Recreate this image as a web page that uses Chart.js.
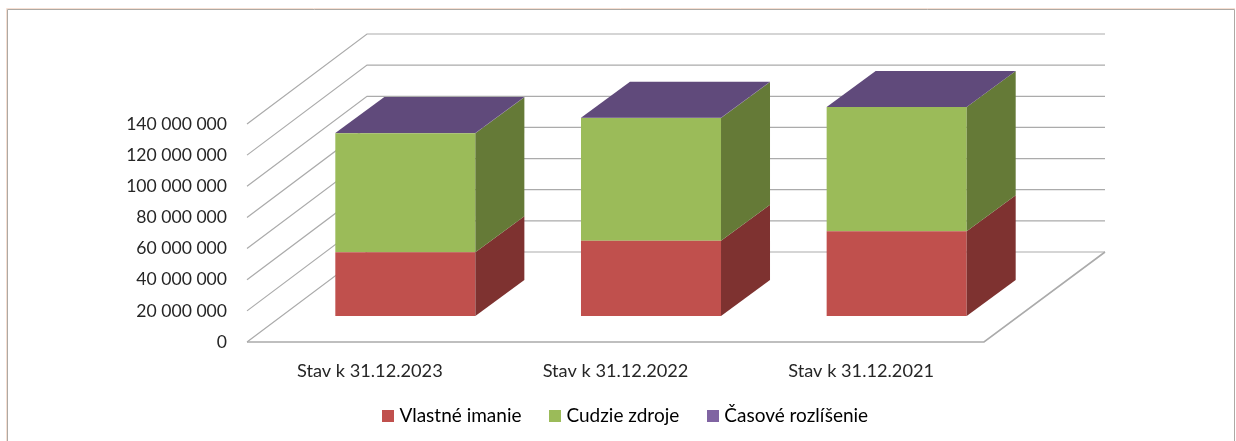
<!DOCTYPE html>
<html>
<head>
<meta charset="utf-8">
<style>html,body{margin:0;padding:0;background:#fff}#w{width:1236px;height:441px;position:relative}</style>
<script src="https://cdn.jsdelivr.net/npm/chart.js@4/dist/chart.umd.min.js"></script>
</head>
<body>
<div id="w"><canvas id="c"></canvas></div>
<script>
const categories = ['Stav k 31.12.2023', 'Stav k 31.12.2022', 'Stav k 31.12.2021'];
const vlastneImanie = [41000000, 48400000, 54400000];
const cudzieZdroje = [76400000, 78800000, 79800000];
const casoveRozlisenie = [100000, 100000, 100000];
const seriesColors = ['#C0504D', '#9BBB59', '#8064A2'];
const sideColors = ['#7E3230', '#657A37', '#604A7B'];
const topColor = '#604A7B';
const wallDepth = {x: 120, y: -90};
const barOffset = {x: 35.5, y: -26};
const barDepth = {x: 49, y: -36};
const gridColor = '#ABABAB';
const fontFamily = 'Lato, "Open Sans", sans-serif';

const fmt = v => String(v).replace(/\B(?=(\d{3})+(?!\d))/g, ' ');

function poly(ctx, pts, fill) {
  ctx.beginPath();
  pts.forEach((p, i) => i ? ctx.lineTo(p[0], p[1]) : ctx.moveTo(p[0], p[1]));
  ctx.closePath();
  ctx.fillStyle = fill;
  ctx.fill();
}

function swatch(color) {
  const s = document.createElement('canvas');
  s.width = 12; s.height = 12;
  const g = s.getContext('2d');
  g.fillStyle = color;
  g.fillRect(0, 0, 12, 12);
  return s;
}

const threeD = {
  id: 'threeD',
  afterLayout(chart) {
    chart.legend.left = 18;
    chart.legend.right = 1236;
    chart.legend.top = 374.5;
  },
  beforeDraw(chart) {
    const c = chart.ctx;
    c.save();
    c.strokeStyle = '#F6DFD2';
    c.lineWidth = 1;
    c.beginPath(); c.moveTo(6.5, 441); c.lineTo(6.5, 8.5); c.lineTo(1235, 8.5); c.stroke();
    c.strokeStyle = '#ADA9A4';
    c.beginPath(); c.moveTo(7.5, 441); c.lineTo(7.5, 9.5); c.lineTo(1234.5, 9.5); c.lineTo(1234.5, 441); c.stroke();
    c.restore();
  },
  beforeDatasetsDraw(chart) {
    const c = chart.ctx, y = chart.scales.y, a = chart.chartArea;
    c.save();
    c.strokeStyle = gridColor;
    c.lineWidth = 1.2;
    const backR = a.right + wallDepth.x + 1;
    y.ticks.forEach(t => {
      const py = y.getPixelForValue(t.value);
      c.beginPath();
      c.moveTo(a.left, py);
      c.lineTo(a.left + wallDepth.x, py + wallDepth.y);
      c.lineTo(backR, py + wallDepth.y);
      c.stroke();
    });
    const by = y.getPixelForValue(0);
    c.lineWidth = 1.6;
    c.beginPath();
    c.moveTo(a.left, by);
    c.lineTo(a.right, by);
    c.lineTo(backR, by + wallDepth.y);
    c.stroke();
    c.restore();
    c.save();
    c.translate(barOffset.x, barOffset.y);
  },
  afterDatasetsDraw(chart) {
    const c = chart.ctx;
    const dx = barDepth.x, dy = barDepth.y;
    chart.data.datasets.forEach((ds, di) => {
      chart.getDatasetMeta(di).data.forEach(el => {
        const r = el.x + el.width / 2, t = el.y, b = el.base;
        poly(c, [[r, t], [r + dx, t + dy], [r + dx, b + dy], [r, b]], sideColors[di]);
      });
    });
    const last = chart.data.datasets.length - 1;
    chart.getDatasetMeta(last).data.forEach(el => {
      const l = el.x - el.width / 2, r = el.x + el.width / 2, t = el.y;
      poly(c, [[l, t], [l + dx, t + dy], [r + dx, t + dy], [r, t]], topColor);
    });
    c.restore();
  }
};

new Chart(document.getElementById('c'), {
  type: 'bar',
  data: {
    labels: categories,
    datasets: [
      {label: 'Vlastné imanie', data: vlastneImanie, backgroundColor: seriesColors[0]},
      {label: 'Cudzie zdroje', data: cudzieZdroje, backgroundColor: seriesColors[1]},
      {label: 'Časové rozlíšenie', data: casoveRozlisenie, backgroundColor: seriesColors[2]}
    ]
  },
  plugins: [threeD],
  options: {
    responsive: true,
    maintainAspectRatio: false,
    animation: false,
    clip: false,
    barPercentage: 0.76,
    categoryPercentage: 0.75,
    layout: {padding: {top: 124, right: 252, left: 0, bottom: 0}},
    plugins: {
      tooltip: {enabled: false},
      legend: {
        position: 'bottom',
        align: 'center',
        labels: {
          usePointStyle: true,
          pointStyleWidth: 4,
          boxWidth: 12, boxHeight: 12, padding: 31.5,
          color: '#262626',
          font: {family: fontFamily, size: 19},
          generateLabels: chart => chart.data.datasets.map((d, i) => ({
            text: d.label,
            pointStyle: swatch(seriesColors[i]),
            datasetIndex: i
          }))
        }
      }
    },
    scales: {
      x: {
        stacked: true,
        grid: {display: false, drawTicks: false},
        border: {display: false},
        ticks: {color: '#262626', padding: 18, font: {family: fontFamily, size: 18.2}, maxRotation: 0},
        afterFit(s) { s.height = 38.5; }
      },
      y: {
        stacked: true,
        min: 0, max: 140000000,
        grid: {display: false, drawTicks: false},
        border: {display: false},
        ticks: {stepSize: 20000000, color: '#262626', padding: 20, font: {family: fontFamily, size: 17.6}, callback: v => fmt(v)},
        afterFit(s) { s.width = 247; }
      }
    }
  }
});
</script>
</body>
</html>
